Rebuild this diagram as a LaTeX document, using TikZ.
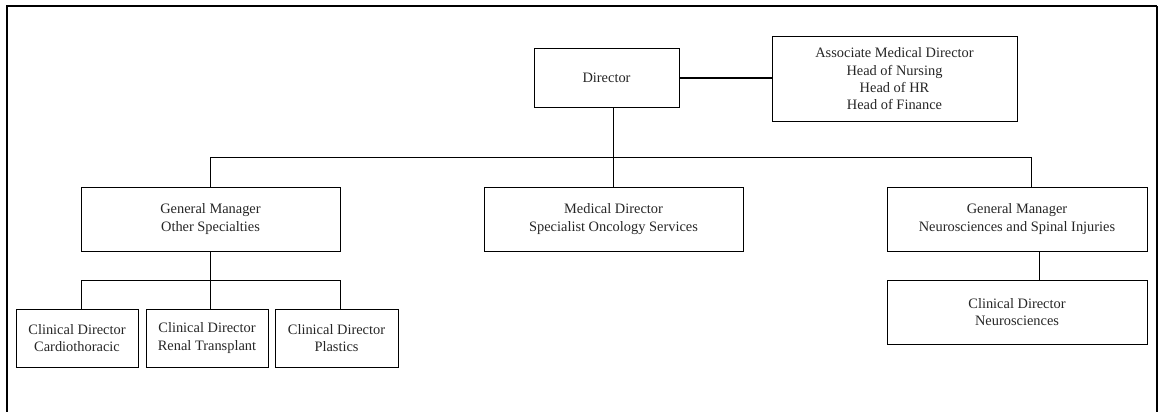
\documentclass[tikz,border=0pt]{standalone}
\usepackage{fontspec}
\setmainfont{Liberation Serif}
\begin{document}
\begin{tikzpicture}[x=1pt,y=-1pt,
  box/.style={draw=black,line width=1pt,rectangle,inner sep=0pt,align=center,
    font=\fontsize{14.4}{17.3}\selectfont,text=black!85},
  link/.style={draw=black,line width=1pt}]
\useasboundingbox (0,0) rectangle (1159,412);
\clip (0,0) rectangle (1159,412);
% frame
\draw[line width=2.5pt] (7,430) -- (7,6) -- (1157,6);
\draw[line width=1.5pt] (1157,6) -- (1157,430);
% nodes
\node[box,minimum width=145pt,minimum height=58pt] (dir) at (606.5,78) {Director};
\node[box,minimum width=245pt,minimum height=84pt] (assoc) at (894.5,79) {Associate Medical Director\\Head of Nursing\\Head of HR\\Head of Finance};
\node[box,minimum width=259pt,minimum height=64pt] (gmo) at (210.5,219) {General Manager\\Other Specialties};
\node[box,minimum width=259pt,minimum height=64pt] (md) at (613.5,219) {Medical Director\\Specialist Oncology Services};
\node[box,minimum width=260pt,minimum height=64pt] (gmn) at (1017,219) {General Manager\\Neurosciences and Spinal Injuries};
\node[box,minimum width=260pt,minimum height=64pt] (cn) at (1017,312) {Clinical Director\\Neurosciences};
\node[box,minimum width=122pt,minimum height=58pt] (cc) at (77,338) {Clinical Director\\Cardiothoracic};
\node[box,minimum width=122pt,minimum height=58pt] (cr) at (207,338) {Clinical Director\\Renal Transplant};
\node[box,minimum width=123pt,minimum height=58pt] (cp) at (336.5,338) {Clinical Director\\Plastics};
% coordinates
\coordinate (bus) at (613.5,157);
\coordinate (busL) at (210.5,157);
\coordinate (busR) at (1031,157);
\coordinate (sub) at (210.5,280);
\coordinate (subL) at (81,280);
\coordinate (subR) at (340,280);
\coordinate (nx) at (1039,0);
% connectors
\draw[link] (dir.east) -- (dir.east -| assoc.west);
\draw[link] (dir.south -| bus) -- (md.north);
\draw[link] (gmo.north) -- (busL) -- (busR) -- (busR |- gmn.north);
\draw[link] (gmo.south) -- (sub);
\draw[link] (subL) -- (subR);
\draw[link] (subL) -- (subL |- cc.north);
\draw[link] (sub) -- (sub |- cr.north);
\draw[link] (subR) -- (subR |- cp.north);
\draw[link] (gmn.south -| nx) -- (cn.north -| nx);
\end{tikzpicture}
\end{document}
